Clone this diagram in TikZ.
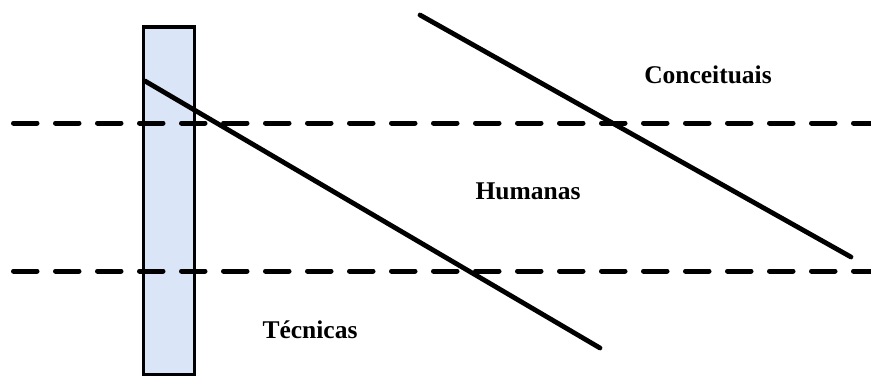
\documentclass[tikz,border=0pt]{standalone}
\usepackage{fontspec}
\setmainfont{Liberation Serif}
\definecolor{barfill}{RGB}{218,230,247}
\begin{document}
\begin{tikzpicture}[x=1pt,y=-1pt,
  bar/.style={draw=black,line width=3.2pt,fill=barfill},
  divider/.style={line width=5pt,line cap=round,dash pattern=on 23.5pt off 18.5pt},
  slope/.style={line width=4.8pt,line cap=round},
  lbl/.style={font=\bfseries\fontsize{25.5}{30}\selectfont,anchor=base,inner sep=0pt}]
\useasboundingbox (0,0) rectangle (871,376);
\draw[bar] (143.5,27) rectangle (194.5,374.5);
\coordinate (d1a) at (13.5,123);
\coordinate (d1b) at (871,123);
\coordinate (d2a) at (13.5,271);
\coordinate (d2b) at (871,271);
\draw[divider] (d1a) -- (d1b);
\draw[divider] (d2a) -- (d2b);
\coordinate (s1a) at (145,81);
\coordinate (s1b) at (600,348);
\coordinate (s2a) at (420,15);
\coordinate (s2b) at (851,257);
\draw[slope] (s1a) -- (s1b);
\draw[slope] (s2a) -- (s2b);
\node[lbl] (conc) at (708,83) {Conceituais};
\node[lbl] (hum) at (528,199) {Humanas};
\node[lbl] (tec) at (310,338) {Técnicas};
\end{tikzpicture}
\end{document}
